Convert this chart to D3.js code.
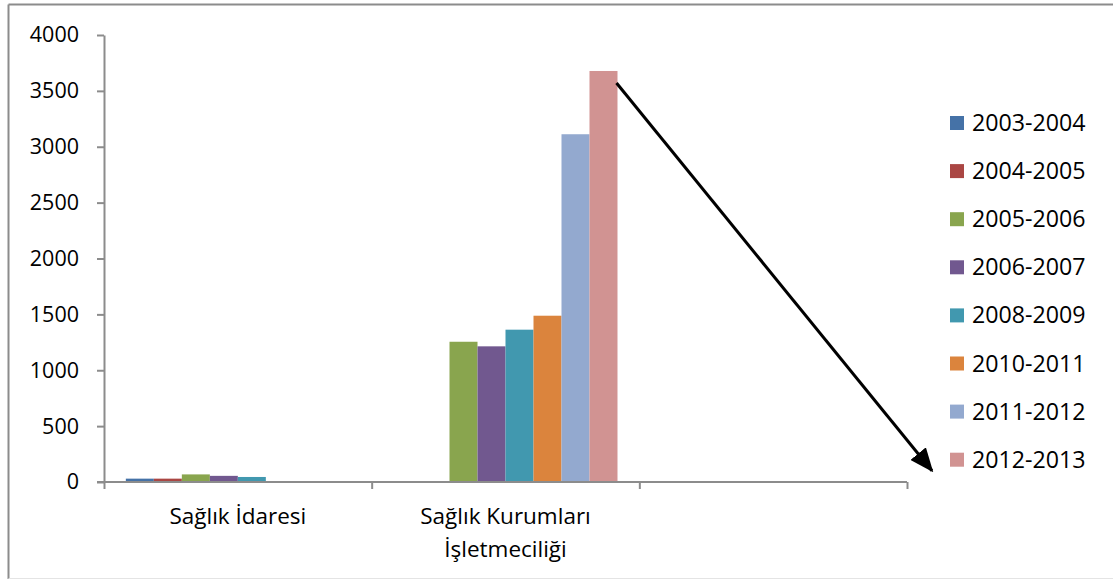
<!DOCTYPE html>
<html>
<head>
<meta charset="utf-8">
<script src="https://cdn.jsdelivr.net/npm/d3@7"></script>
<style>
  html, body { margin: 0; padding: 0; background: #fff; }
  svg { display: block; font-family: "Open Sans", "Liberation Sans", sans-serif; }
</style>
</head>
<body>
<svg id="chart" width="1113" height="580"></svg>
<script>
// Categories (the third slot is an empty category, as in the workbook)
const categories = ["Sağlık İdaresi", "Sağlık Kurumları\nİşletmeciliği", ""];
// Academic-year series
const seriesNames = ["2003-2004", "2004-2005", "2005-2006", "2006-2007",
                     "2008-2009", "2010-2011", "2011-2012", "2012-2013"];
const seriesColors = ["#4572A7", "#AA4643", "#89A54E", "#71588F",
                      "#4198AF", "#DB843D", "#93A9CF", "#D19392"];
// Values per category, one entry per series
const idaresiValues    = [30, 30, 68, 55, 45, 0, 0, 0];
const isletmeValues    = [0, 0, 1255, 1214, 1363, 1488, 3112, 3678];
const emptyValues      = [0, 0, 0, 0, 0, 0, 0, 0];
const yTicks = [0, 500, 1000, 1500, 2000, 2500, 3000, 3500, 4000];

const valuesByCategory = [idaresiValues, isletmeValues, emptyValues];

const svg = d3.select("#chart");
const axisColor = "#8c8c8c";

// Outer chart frame
svg.append("line").attr("x1", 8.5).attr("x2", 8.5).attr("y1", 4.5).attr("y2", 579)
  .attr("stroke", axisColor).attr("stroke-width", 2);
svg.append("line").attr("x1", 8.5).attr("x2", 1113).attr("y1", 4.5).attr("y2", 4.5)
  .attr("stroke", axisColor).attr("stroke-width", 2);
svg.append("line").attr("x1", 8.5).attr("x2", 1113).attr("y1", 578.5).attr("y2", 578.5)
  .attr("stroke", "#e4e4e4").attr("stroke-width", 1);

const plotLeft = 104, plotRight = 907, plotTop = 35, plotBottom = 482;

const x0 = d3.scaleBand().domain(d3.range(categories.length))
  .range([plotLeft, plotRight]).paddingInner(0).paddingOuter(0);
const x1 = d3.scaleBand().domain(seriesNames)
  .range([0, x0.bandwidth()]).paddingInner(0).paddingOuter(0.78);
const y = d3.scaleLinear().domain([0, 4000]).range([plotBottom, plotTop]);

// Bars
const groups = svg.append("g").selectAll("g")
  .data(valuesByCategory)
  .join("g")
  .attr("transform", (d, i) => `translate(${x0(i)},0)`);

groups.selectAll("rect")
  .data(d => d.map((v, j) => ({ v, name: seriesNames[j], color: seriesColors[j] })))
  .join("rect")
  .filter(d => d.v > 0)
  .attr("x", d => x1(d.name))
  .attr("width", x1.bandwidth())
  .attr("y", d => y(d.v))
  .attr("height", d => y(0) - y(d.v))
  .attr("fill", d => d.color);

// Y axis
const yAxis = svg.append("g")
  .attr("transform", `translate(${plotLeft},0)`)
  .call(d3.axisLeft(y).tickValues(yTicks).tickSize(7).tickSizeOuter(0).tickPadding(18)
    .tickFormat(d3.format("d")));
yAxis.select(".domain").attr("stroke", axisColor).attr("stroke-width", 2);
yAxis.selectAll(".tick line").attr("stroke", axisColor).attr("stroke-width", 2);
yAxis.selectAll(".tick text")
  .attr("fill", "#000").style("font-size", "21.5px")
  .style("font-family", "'Open Sans', sans-serif");

// X axis with ticks at category boundaries
const xb = d3.scaleLinear().domain([0, categories.length]).range([plotLeft, plotRight]);
const xAxis = svg.append("g")
  .attr("transform", `translate(0,${plotBottom})`)
  .call(d3.axisBottom(xb).tickValues(d3.range(categories.length + 1))
    .tickSize(7).tickSizeOuter(0).tickFormat(""));
xAxis.select(".domain").attr("stroke", axisColor).attr("stroke-width", 2)
  .attr("d", `M${plotLeft - 7},0H${plotRight}`);
xAxis.selectAll(".tick line").attr("stroke", axisColor).attr("stroke-width", 2);

// Category labels
categories.forEach((c, i) => {
  const lines = c.split("\n");
  const t = svg.append("text")
    .attr("x", x0(i) + x0.bandwidth() / 2)
    .attr("y", 524)
    .attr("text-anchor", "middle")
    .attr("fill", "#000")
    .style("font-size", "22.5px");
  lines.forEach((ln, k) => {
    t.append("tspan").attr("x", x0(i) + x0.bandwidth() / 2)
      .attr("dy", k === 0 ? 0 : 33).text(ln);
  });
});

// Legend
const legendX = 950, legendY0 = 123, legendStep = 48.1, sw = 14;
const legend = svg.append("g");
seriesNames.forEach((name, i) => {
  const cy = legendY0 + i * legendStep;
  legend.append("rect").attr("x", legendX).attr("y", cy - sw / 2)
    .attr("width", sw).attr("height", sw).attr("fill", seriesColors[i]);
  legend.append("text").attr("x", legendX + 22).attr("y", cy + 8)
    .attr("fill", "#000").style("font-size", "23.2px").text(name);
});

// Arrow from the top of the last bar down to the last legend entry
const defs = svg.append("defs");
defs.append("marker").attr("id", "head")
  .attr("viewBox", "0 0 12 10").attr("refX", 11).attr("refY", 5)
  .attr("markerWidth", 24).attr("markerHeight", 20)
  .attr("markerUnits", "userSpaceOnUse")
  .attr("orient", "auto")
  .append("path").attr("d", "M0,0L12,5L0,10z").attr("fill", "#000");

const lastIdx = seriesNames.length - 1;
const ax1 = x0(1) + x1(seriesNames[lastIdx]) + x1.bandwidth() - 1;
const ay1 = y(isletmeValues[lastIdx]) + 12;
const ax2 = legendX - 18;
const ay2 = legendY0 + lastIdx * legendStep + 11;
svg.append("line")
  .attr("x1", ax1).attr("y1", ay1).attr("x2", ax2).attr("y2", ay2)
  .attr("stroke", "#000").attr("stroke-width", 3)
  .attr("marker-end", "url(#head)");
</script>
</body>
</html>
